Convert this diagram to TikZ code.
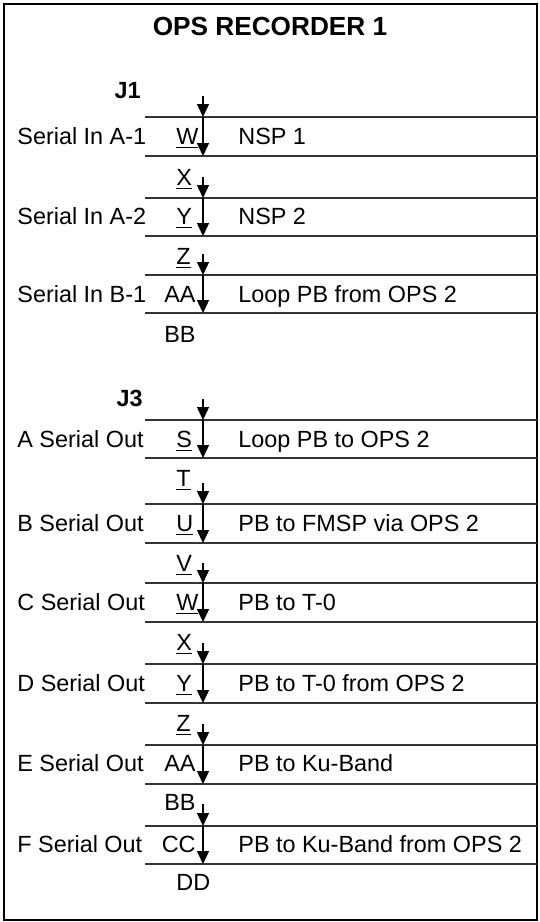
\documentclass[tikz,border=0pt]{standalone}
\usepackage{fontspec}
\setmainfont{Liberation Sans}
\usepackage{tikz}
\usetikzlibrary{arrows.meta, positioning}

\begin{document}
\begin{tikzpicture}[
    x=0.5pt, y=-0.5pt,
    txt/.style={
        inner sep=0pt,
        text height=8.4pt,
        text depth=0pt,
        font=\fontsize{11.7}{14}\selectfont
    },
    lbl/.style={txt, anchor=west},
    pin/.style={txt, anchor=west},
    pinwide/.style={txt, anchor=east},
    hdr/.style={txt, anchor=east, font=\bfseries\fontsize{11.7}{14}\selectfont},
    sig/.style={line width=0.75pt, -{Triangle[width=6pt,length=6.5pt]}},
    rule/.style={draw=black!80, line width=0.55pt},
    frame/.style={draw=black, line width=1pt}
]

    \useasboundingbox (0,0) rectangle (540,922);

    % Outer frame
    \draw[frame] (4,4) rectangle (537,920);

    % Title
    \node[txt, font=\bfseries\fontsize{13.1}{16}\selectfont] (title) at (270,27) {OPS RECORDER 1};

    % Connector J1
    \node[hdr] (j1) at (141,90) {J1};

    \node[lbl] (inA1) at (17,136) {Serial In A-1};
    \node[pin] (pinW1) at (176,136) {\underline{W}};
    \node[lbl] (nsp1) at (238,136) {NSP 1};

    \node[pin] (pinX1) at (176,177) {\underline{X}};

    \node[lbl] (inA2) at (17,216) {Serial In A-2};
    \node[pin] (pinY1) at (176,216) {\underline{Y}};
    \node[lbl] (nsp2) at (238,216) {NSP 2};

    \node[pin] (pinZ1) at (176,256) {\underline{Z}};

    \node[lbl] (inB1) at (17,294) {Serial In B-1};
    \node[pinwide] (pinAA1) at (196,294) {AA};
    \node[lbl] (loopIn) at (238,294) {Loop PB from OPS 2};

    \node[pinwide] (pinBB1) at (196,334) {BB};

    % Connector J3
    \node[hdr] (j3) at (143,398) {J3};

    \node[lbl] (outA) at (17,439) {A Serial Out};
    \node[pin] (pinS) at (176,439) {\underline{S}};
    \node[lbl] (loopOut) at (238,439) {Loop PB to OPS 2};

    \node[pin] (pinT) at (176,478) {\underline{T}};

    \node[lbl] (outB) at (17,523) {B Serial Out};
    \node[pin] (pinU) at (176,523) {\underline{U}};
    \node[lbl] (fmsp) at (238,523) {PB to FMSP via OPS 2};

    \node[pin] (pinV) at (176,563) {\underline{V}};

    \node[lbl] (outC) at (17,602) {C Serial Out};
    \node[pin] (pinW3) at (176,602) {\underline{W}};
    \node[lbl] (tzero) at (238,602) {PB to T-0};

    \node[pin] (pinX3) at (176,642) {\underline{X}};

    \node[lbl] (outD) at (17,683) {D Serial Out};
    \node[pin] (pinY3) at (176,683) {\underline{Y}};
    \node[lbl] (tzeroOps) at (238,683) {PB to T-0 from OPS 2};

    \node[pin] (pinZ3) at (176,723) {\underline{Z}};

    \node[lbl] (outE) at (17,763) {E Serial Out};
    \node[pinwide] (pinAA3) at (196,763) {AA};
    \node[lbl] (ku) at (238,763) {PB to Ku-Band};

    \node[pinwide] (pinBB3) at (196,802) {BB};

    \node[lbl] (outF) at (17,844) {F Serial Out};
    \node[pinwide] (pinCC) at (196,844) {CC};
    \node[lbl] (kuOps) at (238,844) {PB to Ku-Band from OPS 2};

    \node[pin] (pinDD) at (176,882) {DD};

    % Rules
    \draw[rule] (145,117) -- (537,117) (145,156) -- (537,156);
    \draw[rule] (145,198) -- (537,198) (145,236) -- (537,236);
    \draw[rule] (145,275) -- (537,275) (145,313) -- (537,313);
    \draw[rule] (145,420) -- (537,420) (145,458) -- (537,458);
    \draw[rule] (145,504) -- (537,504) (145,543) -- (537,543);
    \draw[rule] (145,583) -- (537,583) (145,622) -- (537,622);
    \draw[rule] (145,664) -- (537,664) (145,703) -- (537,703);
    \draw[rule] (145,745) -- (537,745) (145,784) -- (537,784);
    \draw[rule] (145,826) -- (537,826) (145,864) -- (537,864);

    % Signal points
    \coordinate (sA1) at (203,96);  \coordinate (tA1) at (203,117); \coordinate (bA1) at (203,156);
    \coordinate (sA2) at (203,177); \coordinate (tA2) at (203,198); \coordinate (bA2) at (203,236);
    \coordinate (sB1) at (203,254); \coordinate (tB1) at (203,275); \coordinate (bB1) at (203,313);
    \coordinate (sA)  at (203,399); \coordinate (tA)  at (203,420); \coordinate (bA)  at (203,458);
    \coordinate (sB)  at (203,483); \coordinate (tB)  at (203,504); \coordinate (bB)  at (203,543);
    \coordinate (sC)  at (203,563); \coordinate (tC)  at (203,583); \coordinate (bC)  at (203,622);
    \coordinate (sD)  at (203,643); \coordinate (tD)  at (203,664); \coordinate (bD)  at (203,703);
    \coordinate (sE)  at (203,724); \coordinate (tE)  at (203,745); \coordinate (bE)  at (203,784);
    \coordinate (sF)  at (203,804); \coordinate (tF)  at (203,826); \coordinate (bF)  at (203,864);

    % Connections
    \draw[sig] (sA1) -- (tA1);  \draw[sig] (tA1) -- (bA1);
    \draw[sig] (sA2) -- (tA2);  \draw[sig] (tA2) -- (bA2);
    \draw[sig] (sB1) -- (tB1);  \draw[sig] (tB1) -- (bB1);
    \draw[sig] (sA) -- (tA);    \draw[sig] (tA) -- (bA);
    \draw[sig] (sB) -- (tB);    \draw[sig] (tB) -- (bB);
    \draw[sig] (sC) -- (tC);    \draw[sig] (tC) -- (bC);
    \draw[sig] (sD) -- (tD);    \draw[sig] (tD) -- (bD);
    \draw[sig] (sE) -- (tE);    \draw[sig] (tE) -- (bE);
    \draw[sig] (sF) -- (tF);    \draw[sig] (tF) -- (bF);

\end{tikzpicture}
\end{document}
